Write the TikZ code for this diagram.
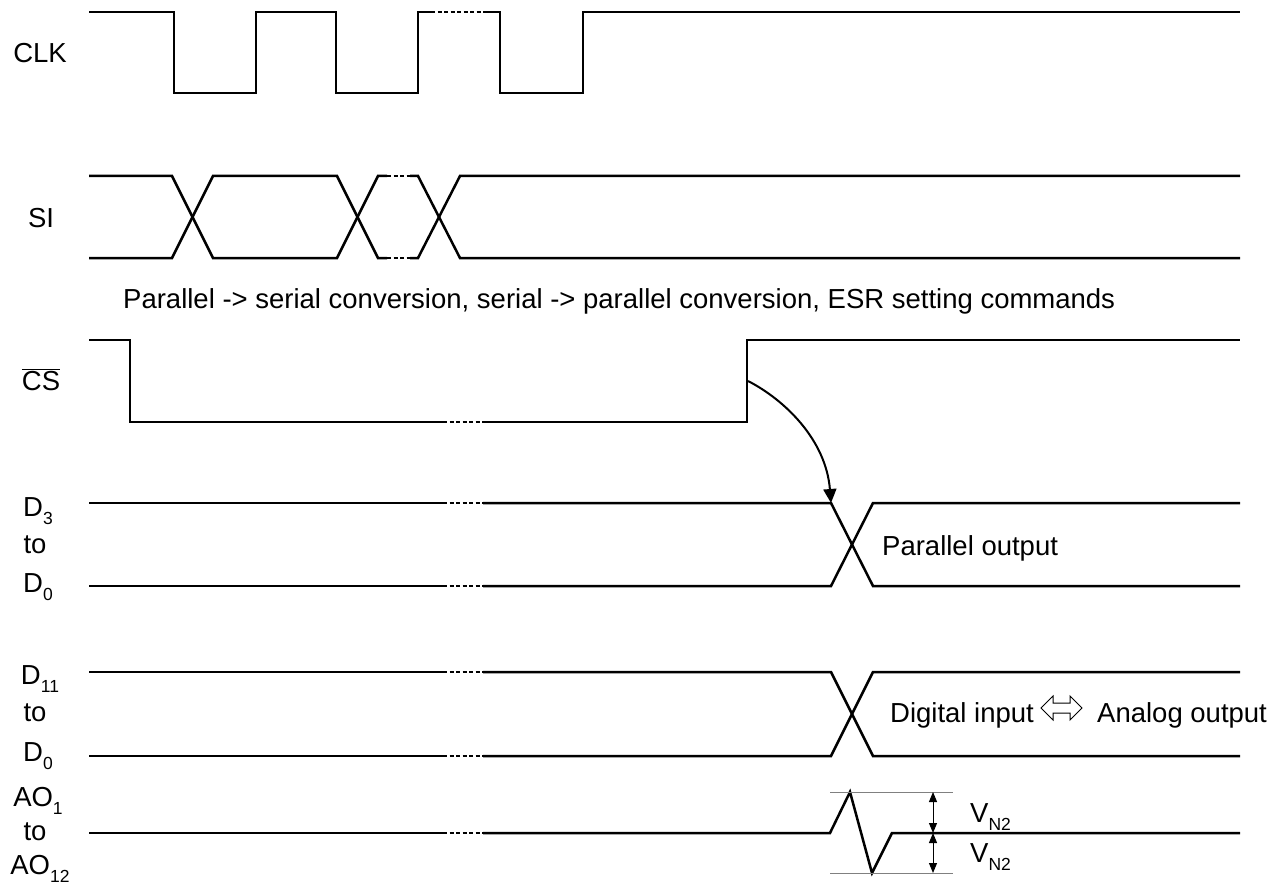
\documentclass[tikz,border=0pt]{standalone}
\usepackage{fontspec}
\setmainfont{Liberation Sans}
\usetikzlibrary{arrows.meta}
\newcommand{\lowsub}[1]{\raisebox{-8pt}{\fontsize{17.5}{19}\selectfont #1}}
\begin{document}
\begin{tikzpicture}[x=1pt,y=-1pt,
  sig/.style={line width=2.5pt, line join=miter},
  dots/.style={line width=2.5pt, dash pattern=on 4pt off 2.5pt},
  txt/.style={inner sep=0pt, anchor=base, font=\fontsize{27.5}{32}\selectfont},
  lbl/.style={txt, anchor=base},
  txtw/.style={txt, anchor=base west},
  guide/.style={line width=1pt, draw=gray},
  dim/.style={line width=1pt, {Triangle[length=10pt,width=8pt]}-{Triangle[length=10pt,width=8pt]}},
  cause/.style={line width=2pt, -{Triangle[length=14pt,width=13pt]}}]
\useasboundingbox (0,0) rectangle (1278,888);

% signal names
\node[lbl] (nclk) at (40,63) {CLK};
\node[lbl] (nsi) at (41,227) {SI};
\node[lbl] (ncs) at (41,390) {$\overline{\mbox{CS}}$};
\node[lbl] (nd3a) at (38,516) {D\lowsub{3}};
\node[lbl] (nd3b) at (35,553) {to};
\node[lbl] (nd3c) at (38,592) {D\lowsub{0}};
\node[lbl] (nd11a) at (40,684) {D\lowsub{11}};
\node[lbl] (nd11b) at (35,721) {to};
\node[lbl] (nd11c) at (38,761) {D\lowsub{0}};
\node[lbl] (nao1) at (38,806) {AO\lowsub{1}};
\node[lbl] (nao2) at (35,840) {to};
\node[lbl] (nao3) at (40,874) {AO\lowsub{12}};

% CLK
\draw[sig] (89,12) -- (174,12) -- (174,93) -- (256,93) -- (256,12) -- (336,12)
  -- (336,93) -- (418,93) -- (418,12) -- (431,12);
\draw[dots] (431,12) -- (484,12);
\draw[sig] (484,12) -- (500,12) -- (500,93) -- (583,93) -- (583,12) -- (1240,12);

% SI
\draw[sig] (89,176) -- (172,176) -- (213,258) -- (337,258) -- (378,176) -- (387,176);
\draw[sig] (89,258) -- (172,258) -- (213,176) -- (337,176) -- (378,258) -- (387,258);
\draw[dots] (387,176) -- (410,176);
\draw[dots] (387,258) -- (410,258);
\draw[sig] (410,176) -- (418,176) -- (460,258) -- (1240,258);
\draw[sig] (410,258) -- (418,258) -- (460,176) -- (1240,176);

\node[txtw] (cap) at (123,308) {Parallel -> serial conversion, serial -> parallel conversion, ESR setting commands};

% CS
\draw[sig] (89,340) -- (130,340) -- (130,422) -- (443,422);
\draw[dots] (443,422) -- (483,422);
\draw[sig] (483,422) -- (747,422) -- (747,340) -- (1240,340);

% D3 to D0
\draw[sig] (89,503) -- (443,503);
\draw[dots] (443,503) -- (483,503);
\draw[sig] (483,503) -- (831,503) -- (873,586) -- (1240,586);
\draw[sig] (89,586) -- (443,586);
\draw[dots] (443,586) -- (483,586);
\draw[sig] (483,586) -- (831,586) -- (873,503) -- (1240,503);
\node[txtw] (pout) at (882,555) {Parallel output};

% D11 to D0
\draw[sig] (89,672) -- (443,672);
\draw[dots] (443,672) -- (483,672);
\draw[sig] (483,672) -- (831,672) -- (873,756) -- (1240,756);
\draw[sig] (89,756) -- (443,756);
\draw[dots] (443,756) -- (483,756);
\draw[sig] (483,756) -- (831,756) -- (873,672) -- (1240,672);
\node[txtw] (din) at (890,722) {Digital input};
\draw[line width=1pt, line join=miter] (1041,708) -- (1053,696) -- (1053,703) -- (1070,703) -- (1070,696)
  -- (1082,708) -- (1070,720) -- (1070,713) -- (1053,713) -- (1053,720) -- cycle;
\node[txtw] (aout) at (1097,722) {Analog output};

% AO1 to AO12
\draw[sig] (89,833) -- (443,833);
\draw[dots] (443,833) -- (483,833);
\draw[sig] (483,833) -- (830,833) -- (850,792) -- (872,873) -- (892,833) -- (1240,833);
\draw[guide] (830,792) -- (953,792);
\draw[guide] (830,873) -- (953,873);
\coordinate (vtop) at (933,792);
\coordinate (vmid) at (933,833);
\coordinate (vbot) at (933,873);
\draw[dim] (vtop) -- (vmid);
\draw[dim] (vmid) -- (vbot);
\node[txtw] (vn1) at (970,822) {V\lowsub{N2}};
\node[txtw] (vn2) at (970,862) {V\lowsub{N2}};

% chip select rising edge triggers the parallel output
\coordinate (csedge) at (748,381);
\coordinate (d3edge) at (831,503);
\draw[cause] (csedge) .. controls (785,400) and (826,440) .. (d3edge);
\end{tikzpicture}
\end{document}
